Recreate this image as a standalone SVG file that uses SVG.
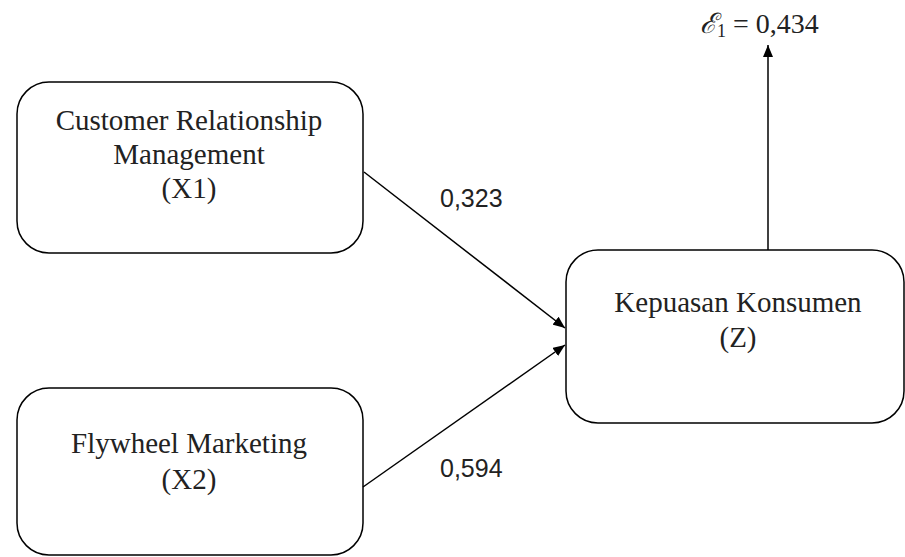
<svg xmlns="http://www.w3.org/2000/svg" width="905" height="557" viewBox="0 0 905 557">
<style>
.box{fill:#fff;stroke:#000;stroke-width:1.5}
.t{font-family:"Liberation Serif","Times New Roman",serif;font-size:29px;fill:#222;text-anchor:middle}
.n{font-family:"Liberation Sans",Arial,sans-serif;font-size:25px;fill:#222}
.c{stroke:#000;stroke-width:1.5;fill:none;marker-end:url(#ah)}
</style>
<defs>
<marker id="ah" viewBox="0 0 12 10" refX="12" refY="5" markerWidth="12" markerHeight="10" markerUnits="userSpaceOnUse" orient="auto">
<path d="M0,0 L12,5 L0,10 Z" fill="#000"/>
</marker>
</defs>
<rect width="905" height="557" fill="#fff"/>
<g id="x1">
<rect class="box" x="17" y="82" width="346" height="171" rx="32"/>
<text class="t" x="189" y="130">Customer Relationship</text>
<text class="t" x="189" y="164">Management</text>
<text class="t" x="189" y="198">(X1)</text>
</g>
<g id="x2">
<rect class="box" x="17" y="388" width="346" height="167" rx="32"/>
<text class="t" x="189" y="453">Flywheel Marketing</text>
<text class="t" x="189" y="489">(X2)</text>
</g>
<g id="z">
<rect class="box" x="566" y="250" width="338" height="173" rx="32"/>
<text class="t" x="738" y="312">Kepuasan Konsumen</text>
<text class="t" x="738" y="347">(Z)</text>
</g>
<g id="connectors">
<line class="c" x1="364" y1="172" x2="565" y2="328"/>
<line class="c" x1="363" y1="487" x2="565" y2="345"/>
<line class="c" x1="768" y1="250" x2="768" y2="45"/>
</g>
<g id="labels">
<text class="n" x="440" y="207">0,323</text>
<text class="n" x="440" y="477">0,594</text>
<text x="700" y="33" font-family="'Liberation Serif','DejaVu Serif',serif" font-size="28" fill="#222"><tspan font-style="italic">ℰ</tspan><tspan font-size="18" dy="4">1</tspan><tspan dy="-4"> = 0,434</tspan></text>
</g>
</svg>
